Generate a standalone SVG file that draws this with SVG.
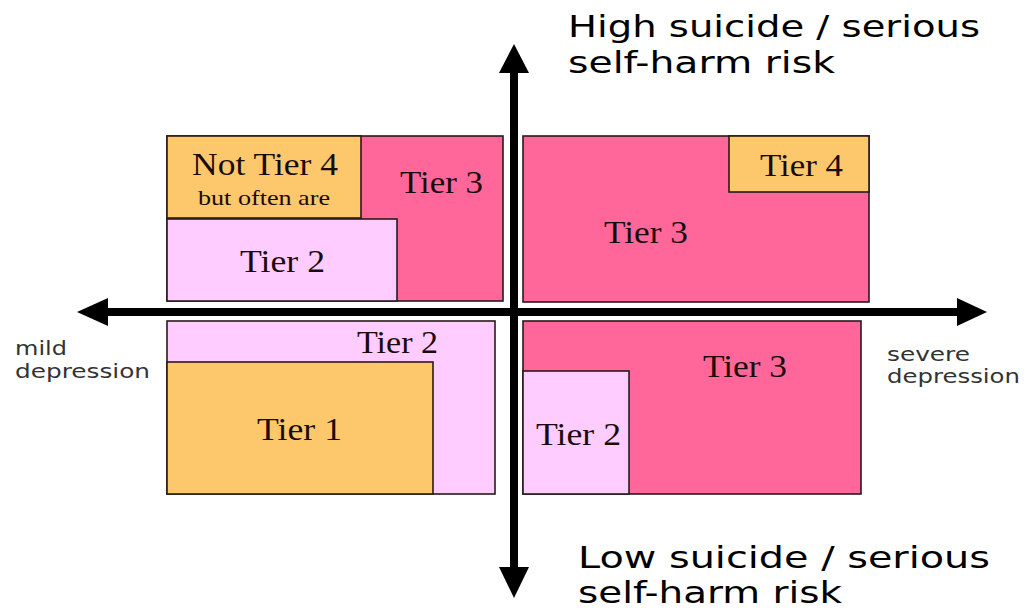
<svg xmlns="http://www.w3.org/2000/svg" width="1027" height="610" viewBox="0 0 1027 610">
<style>
.box{stroke:#2a1a1a;stroke-width:1.6}
.hot{fill:#FF6699}
.org{fill:#FDC86C}
.lt{fill:#FFCCFF}
.tier{font-family:"Liberation Serif","Times New Roman",serif;font-size:31px;fill:#1a0a0a}
.small{font-family:"Liberation Serif","Times New Roman",serif;font-size:22px;fill:#1a0a0a}
.title{font-family:"DejaVu Sans",Verdana,sans-serif;font-size:30px;fill:#000}
.lbl{font-family:"DejaVu Sans",Verdana,sans-serif;font-size:19px;fill:#333}
.ax{stroke:#000;stroke-width:8;fill:none}
.head{fill:#000}
</style>
<rect width="1027" height="610" fill="#fff"/>
<g id="connectors">
<line class="ax" x1="100" y1="312" x2="965" y2="312"/>
<polygon class="head" points="77,312 108,298 108,326"/>
<polygon class="head" points="987,312 957,298 957,326"/>
<line class="ax" x1="514" y1="65" x2="514" y2="575"/>
<polygon class="head" points="514,44 499,73 529,73"/>
<polygon class="head" points="514,598 499,567 529,567"/>
</g>
<g id="q-top-left">
<rect class="box hot" x="167" y="136" width="336" height="165"/>
<rect class="box org" x="167" y="136" width="194" height="82"/>
<rect class="box lt" x="167" y="219" width="230" height="82"/>
<text class="tier" x="192" y="175" textLength="146" lengthAdjust="spacingAndGlyphs">Not Tier 4</text>
<text class="small" x="198" y="205" textLength="132" lengthAdjust="spacingAndGlyphs">but often are</text>
<text class="tier" x="400" y="193" textLength="83" lengthAdjust="spacingAndGlyphs">Tier 3</text>
<text class="tier" x="240" y="272" textLength="85" lengthAdjust="spacingAndGlyphs">Tier 2</text>
</g>
<g id="q-top-right">
<rect class="box hot" x="523" y="136" width="346" height="166"/>
<rect class="box org" x="729" y="136" width="140" height="56"/>
<text class="tier" x="760" y="176" textLength="83" lengthAdjust="spacingAndGlyphs">Tier 4</text>
<text class="tier" x="604" y="243" textLength="84" lengthAdjust="spacingAndGlyphs">Tier 3</text>
</g>
<g id="q-bottom-left">
<rect class="box lt" x="167" y="321" width="328" height="173"/>
<rect class="box org" x="167" y="362" width="266" height="132"/>
<text class="tier" x="357" y="353" textLength="81" lengthAdjust="spacingAndGlyphs">Tier 2</text>
<text class="tier" x="257" y="440" textLength="85" lengthAdjust="spacingAndGlyphs">Tier 1</text>
</g>
<g id="q-bottom-right">
<rect class="box hot" x="523" y="321" width="338" height="173"/>
<rect class="box lt" x="523" y="371" width="106" height="123"/>
<text class="tier" x="703" y="377" textLength="84" lengthAdjust="spacingAndGlyphs">Tier 3</text>
<text class="tier" x="536" y="445" textLength="85" lengthAdjust="spacingAndGlyphs">Tier 2</text>
</g>
<g id="label-high">
<text class="title" x="568" y="37" textLength="412" lengthAdjust="spacingAndGlyphs">High suicide / serious</text>
<text class="title" x="568" y="73" textLength="267" lengthAdjust="spacingAndGlyphs">self-harm risk</text>
</g>
<g id="label-low">
<text class="title" x="578" y="568" textLength="412" lengthAdjust="spacingAndGlyphs">Low suicide / serious</text>
<text class="title" x="578" y="603" textLength="264" lengthAdjust="spacingAndGlyphs">self-harm risk</text>
</g>
<g id="label-mild">
<text class="lbl" x="15" y="355" textLength="52" lengthAdjust="spacingAndGlyphs">mild</text>
<text class="lbl" x="15" y="378" textLength="135" lengthAdjust="spacingAndGlyphs">depression</text>
</g>
<g id="label-severe">
<text class="lbl" x="887" y="361" textLength="83" lengthAdjust="spacingAndGlyphs">severe</text>
<text class="lbl" x="887" y="383" textLength="133" lengthAdjust="spacingAndGlyphs">depression</text>
</g>
</svg>
